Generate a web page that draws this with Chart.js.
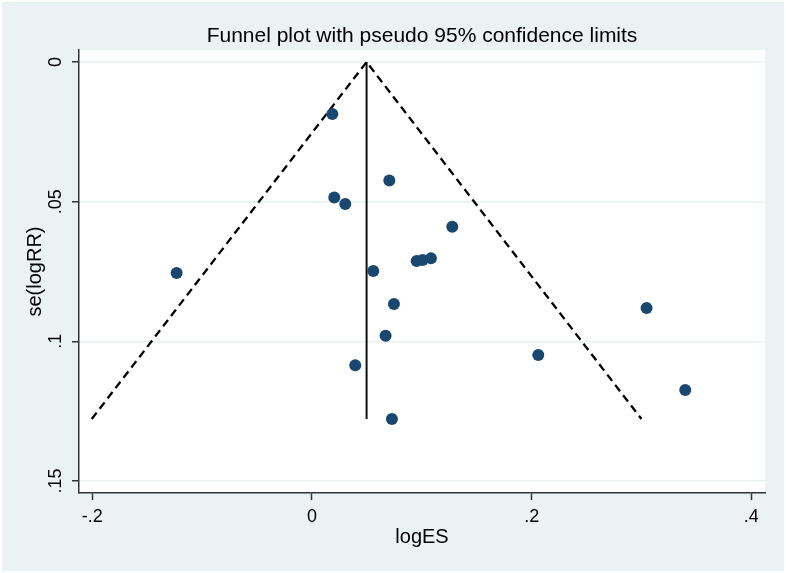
<!DOCTYPE html>
<html>
<head>
<meta charset="utf-8">
<title>Funnel plot</title>
<script src="https://cdn.jsdelivr.net/npm/chart.js@4.4.1/dist/chart.umd.min.js"></script>
<style>
  html, body { margin:0; padding:0; background:#fff; }
  canvas { display:block; }
</style>
</head>
<body>
<canvas id="funnel" width="786" height="573"></canvas>
<script>
// study estimates
const studyES = [0.0185, 0.0704, 0.0203, 0.0303, 0.1277, -0.1232, 0.0558, 0.0953, 0.1007, 0.1083,
                 0.0746, 0.0670, 0.0394, 0.0728, 0.2060, 0.3046, 0.3398];
const studySE = [0.0186, 0.0424, 0.0485, 0.0508, 0.0590, 0.0755, 0.0748, 0.0712, 0.0709, 0.0703,
                 0.0866, 0.0980, 0.1086, 0.1278, 0.1049, 0.0881, 0.1174];

// pseudo 95% confidence limits + pooled estimate line
const limitX = [-0.2005, 0.0497, 0.2999];
const limitY = [0.1278, 0, 0.1278];
const pooledX = [0.0497, 0.0497];
const pooledY = [0, 0.1278];

// axes
const xTicks = [-0.2, 0, 0.2, 0.4];
const xTickLabels = ["-.2", "0", ".2", ".4"];
const yTicks = [0, 0.05, 0.1, 0.15];
const yTickLabels = ["0", ".05", ".1", ".15"];

const TITLE = "Funnel plot with pseudo 95% confidence limits";
const FONT = '"Liberation Sans", Arial, sans-serif';
const NAVY = "#1a476f";
const BG = "#eaf2f3";

function toPoints(xs, ys){
  return xs.map((x,i)=>({ x, y: ys[i] }));
}

// background + white plot region
const bgPlugin = {
  id: "stataBg",
  beforeDraw(chart){
    const {ctx, chartArea, width, height} = chart;
    ctx.save();
    ctx.fillStyle = "#fff";
    ctx.fillRect(0, 0, width, height);
    ctx.fillStyle = BG;
    ctx.fillRect(2, 2, width-4, height-4);
    ctx.fillStyle = "#fff";
    ctx.fillRect(chartArea.left, chartArea.top, chartArea.right-chartArea.left, chartArea.bottom-chartArea.top);
    ctx.restore();
  }
};

// title centred on the plot region
const titlePlugin = {
  id: "stataTitle",
  afterDraw(chart){
    const {ctx, chartArea} = chart;
    ctx.save();
    ctx.font = "21px " + FONT;
    ctx.fillStyle = "#000";
    ctx.textAlign = "center";
    ctx.textBaseline = "middle";
    ctx.fillText(TITLE, (chartArea.left + chartArea.right)/2, 36);
    ctx.restore();
  }
};

const ctx = document.getElementById("funnel").getContext("2d");

new Chart(ctx, {
  type: "scatter",
  data: {
    datasets: [
      {
        label: "Studies",
        data: toPoints(studyES, studySE),
        backgroundColor: NAVY,
        borderWidth: 0,
        pointRadius: 6,
        order: 0
      },
      {
        label: "Pseudo 95% CI",
        data: toPoints(limitX, limitY),
        showLine: true,
        borderColor: "#000",
        borderWidth: 2.3,
        borderDash: [8, 5],
        pointRadius: 0,
        order: 1
      },
      {
        label: "Pooled",
        data: toPoints(pooledX, pooledY),
        showLine: true,
        borderColor: "#111",
        borderWidth: 2,
        pointRadius: 0,
        order: 2
      }
    ]
  },
  options: {
    responsive: false,
    devicePixelRatio: 1,
    animation: false,
    layout: { padding: { top: 50, right: 21, left: 0, bottom: 0 } },
    plugins: {
      legend: { display: false },
      tooltip: { enabled: false }
    },
    scales: {
      x: {
        type: "linear",
        min: -0.2121,
        max: 0.4124,
        bounds: "data",
        afterBuildTicks: s => { s.ticks = xTicks.map(v => ({ value: v })); },
        afterFit: s => { s.height = 80; },
        border: { display: true, color: "#333", width: 1.5 },
        grid: { drawOnChartArea: false, drawTicks: true, tickLength: 7, tickColor: "#333", tickWidth: 1.5 },
        ticks: {
          autoSkip: false,
          maxRotation: 0,
          padding: 6,
          color: "#000",
          font: { family: FONT, size: 18 },
          callback: (v, i) => xTickLabels[i]
        },
        title: {
          display: true,
          text: "logES",
          color: "#000",
          font: { family: FONT, size: 20 },
          padding: { top: 0, bottom: 24 }
        }
      },
      y: {
        type: "linear",
        reverse: true,
        min: -0.0043,
        max: 0.1543,
        bounds: "data",
        afterBuildTicks: s => { s.ticks = yTicks.map(v => ({ value: v })); },
        afterFit: s => { s.width = 79; },
        border: { display: true, color: "#333", width: 1.5 },
        grid: { color: BG, lineWidth: 1.5, drawTicks: true, tickLength: 7, tickColor: "#333", tickWidth: 1.5 },
        ticks: {
          autoSkip: false,
          minRotation: 90,
          maxRotation: 90,
          crossAlign: "center",
          padding: 3,
          color: "#000",
          font: { family: FONT, size: 18 },
          callback: (v, i) => yTickLabels[i]
        },
        title: {
          display: true,
          text: "se(logRR)",
          color: "#000",
          font: { family: FONT, size: 20 },
          padding: { top: 23, bottom: 0 }
        }
      }
    }
  },
  plugins: [bgPlugin, titlePlugin]
});
</script>
</body>
</html>
